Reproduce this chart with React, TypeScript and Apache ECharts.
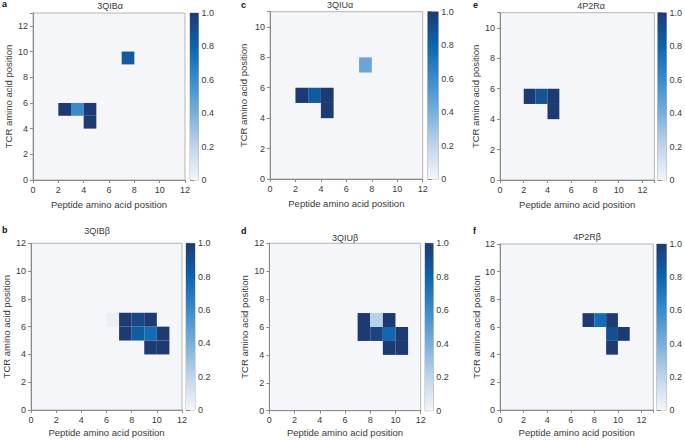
import React, { useEffect, useRef } from 'react';
import * as echarts from 'echarts';

// ---- data ----
const panelLetters = ['a', 'c', 'e', 'b', 'd', 'f'];
const panelTitles = ['3QIBα', '3QIUα', '4P2Rα', '3QIBβ', '3QIUβ', '4P2Rβ'];
const xAxisName = 'Peptide amino acid position';
const yAxisName = 'TCR amino acid position';
const xMaxes = [12, 12, 13, 12, 12, 13];
const yMaxes = [13, 11, 11, 12, 12, 12];

// [peptide position, TCR position, value]
const cells3QIBa = [[2, 5, 1], [3, 5, 0.6], [4, 5, 1], [4, 4, 1], [7, 9, 0.85]];
const cells3QIUa = [[2, 5, 1], [3, 5, 0.85], [4, 5, 1], [4, 4, 1], [7, 7, 0.45]];
const cells4P2Ra = [[2, 5, 1], [3, 5, 0.88], [4, 5, 1], [4, 4, 1]];
const cells3QIBb = [
  [6, 6, 0.04], [7, 6, 1], [8, 6, 0.94], [9, 6, 1],
  [7, 5, 1], [8, 5, 0.84], [9, 5, 0.76], [10, 5, 1],
  [9, 4, 1], [10, 4, 1],
];
const cells3QIUb = [
  [7, 6, 1], [8, 6, 0.22], [9, 6, 1],
  [7, 5, 1], [8, 5, 0.95], [9, 5, 0.78], [10, 5, 1],
  [9, 4, 1], [10, 4, 1],
];
const cells4P2Rb = [
  [7, 6, 1], [8, 6, 0.76], [9, 6, 1],
  [9, 5, 0.9], [10, 5, 1],
  [9, 4, 1],
];
const panelCells = [cells3QIBa, cells3QIUa, cells4P2Ra, cells3QIBb, cells3QIUb, cells4P2Rb];

const colorValues = [0, 0.2, 0.4, 0.6, 0.8, 1.0];
const colorScale = ['#f4f6fa', '#bfd5eb', '#78afdb', '#3a8bca', '#0c64ae', '#1e3a72'];

// ---- layout ----
const plotBoxes = [
  [33, 13, 152, 167],
  [270, 11.7, 152.7, 167.3],
  [500, 12.7, 154.3, 167.3],
  [30, 243.3, 152, 166.7],
  [269.3, 243.3, 151.4, 167.4],
  [500, 244, 153.3, 166],
];
const barBoxes = [
  [190, 13, 8.5, 167],
  [427.7, 11.7, 10.6, 167.3],
  [657.7, 12.7, 10.6, 167.3],
  [186, 243.3, 9, 166.7],
  [425, 243.3, 8.3, 167.4],
  [656.7, 244, 11.6, 166],
];
const titlePos = [[110, 1], [340, 0], [591, 1], [97, 226], [345, 233], [587, 232]];
const letterPos = [[2, -1], [241, 0], [473, 0], [2, 225], [241, 226], [473, 226]];
const yNameGaps = [20, 22, 19.5, 20, 19.5, 18.5];
const xNameGaps = [19, 19, 19, 17, 17, 17];

const FONT = 'Liberation Sans, Arial, Helvetica, sans-serif';
const TEXT = '#3a3a3a';
const AXIS = '#8a8a8a';
const FRAME = '#b5b5b5';

export default function App() {
  const ref = useRef<HTMLDivElement>(null);
  useEffect(() => {
    if (!ref.current) return;
    const chart = echarts.init(ref.current, undefined, { renderer: 'svg' });

    const grids: any[] = [];
    const xAxes: any[] = [];
    const yAxes: any[] = [];
    const series: any[] = [];
    const titles: any[] = [];
    const graphics: any[] = [];

    const gradStops = colorValues
      .map((v, i) => ({ offset: 1 - v, color: colorScale[i] }))
      .reverse();

    for (let p = 0; p < 6; p++) {
      const [l, t, w, h] = plotBoxes[p];
      grids.push({
        left: l, top: t, width: w, height: h,
        show: true, backgroundColor: colorScale[0], borderColor: FRAME, borderWidth: 1,
      });
      const gi = grids.length - 1;
      xAxes.push({
        gridIndex: gi, type: 'value', min: 0, max: xMaxes[p], interval: 2,
        name: xAxisName, nameLocation: 'middle', nameGap: xNameGaps[p],
        nameTextStyle: { fontSize: 9.5, color: TEXT, fontFamily: FONT },
        axisLine: { show: true, lineStyle: { color: AXIS, width: 1 } },
        axisTick: { show: true, length: 3, lineStyle: { color: AXIS } },
        axisLabel: {
          fontSize: 9, color: TEXT, fontFamily: FONT, margin: 5,
          formatter: (v: number) => (v % 2 === 0 ? String(v) : ''),
        },
        splitLine: { show: false },
      });
      yAxes.push({
        gridIndex: gi, type: 'value', min: 0, max: yMaxes[p], interval: 2,
        name: yAxisName, nameLocation: 'middle', nameGap: yNameGaps[p],
        nameTextStyle: { fontSize: 9.5, color: TEXT, fontFamily: FONT },
        axisLine: { show: true, lineStyle: { color: AXIS, width: 1 } },
        axisTick: { show: true, length: 3, lineStyle: { color: AXIS } },
        axisLabel: {
          fontSize: 9, color: TEXT, fontFamily: FONT, margin: 5,
          formatter: (v: number) => (v % 2 === 0 ? String(v) : ''),
        },
        splitLine: { show: false },
      });
      series.push({
        type: 'custom', xAxisIndex: gi, yAxisIndex: gi,
        data: panelCells[p],
        encode: { x: 0, y: 1 },
        renderItem: (params: any, api: any) => {
          const x = api.value(0);
          const y = api.value(1);
          const p0 = api.coord([x, y + 1]);
          const p1 = api.coord([x + 1, y]);
          return {
            type: 'rect',
            shape: { x: p0[0], y: p0[1], width: p1[0] - p0[0], height: p1[1] - p0[1] },
            style: { fill: api.visual('color') },
          };
        },
      });

      // colorbar
      const [bl, bt, bw, bh] = barBoxes[p];
      grids.push({
        left: bl, top: bt, width: bw, height: bh,
        show: true, borderColor: FRAME, borderWidth: 1,
      });
      const bi = grids.length - 1;
      xAxes.push({ gridIndex: bi, type: 'value', min: 0, max: 1, show: false });
      yAxes.push({
        gridIndex: bi, type: 'value', min: 0, max: 1, interval: 0.2, position: 'right',
        axisLine: { show: false },
        axisTick: { show: true, length: 4, lineStyle: { color: AXIS } },
        axisLabel: {
          fontSize: 9, color: TEXT, fontFamily: FONT, margin: 3,
          formatter: (v: number) => (v === 0 ? '0' : v.toFixed(1)),
        },
        splitLine: { show: false },
      });
      series.push({
        type: 'custom', xAxisIndex: bi, yAxisIndex: bi,
        data: [[0, 0]],
        renderItem: (params: any, api: any) => {
          const a = api.coord([0, 1]);
          const b = api.coord([1, 0]);
          return {
            type: 'rect',
            shape: { x: a[0], y: a[1], width: b[0] - a[0], height: b[1] - a[1] },
            style: { fill: new echarts.graphic.LinearGradient(0, 0, 0, 1, gradStops) },
          };
        },
      });

      titles.push({
        text: panelTitles[p], left: titlePos[p][0], top: titlePos[p][1], textAlign: 'center',
        padding: 0,
        textStyle: { fontSize: 9, fontWeight: 'normal', color: TEXT, fontFamily: FONT },
      });
      graphics.push({
        type: 'text', left: letterPos[p][0], top: letterPos[p][1],
        style: { text: panelLetters[p], font: `bold 9px ${FONT}`, fill: '#111' },
      });
    }

    const heatIdx = [0, 2, 4, 6, 8, 10];
    chart.setOption({
      animation: false,
      backgroundColor: '#ffffff',
      title: titles,
      grid: grids,
      xAxis: xAxes,
      yAxis: yAxes,
      visualMap: {
        show: false, type: 'continuous', min: 0, max: 1, dimension: 2,
        seriesIndex: heatIdx,
        inRange: { color: colorScale },
      },
      graphic: graphics,
      series,
    });
    return () => chart.dispose();
  }, []);
  return (
    <div
      ref={ref}
      style={{ position: 'fixed', left: 0, top: 0, width: 685, height: 440 }}
    />
  );
}
